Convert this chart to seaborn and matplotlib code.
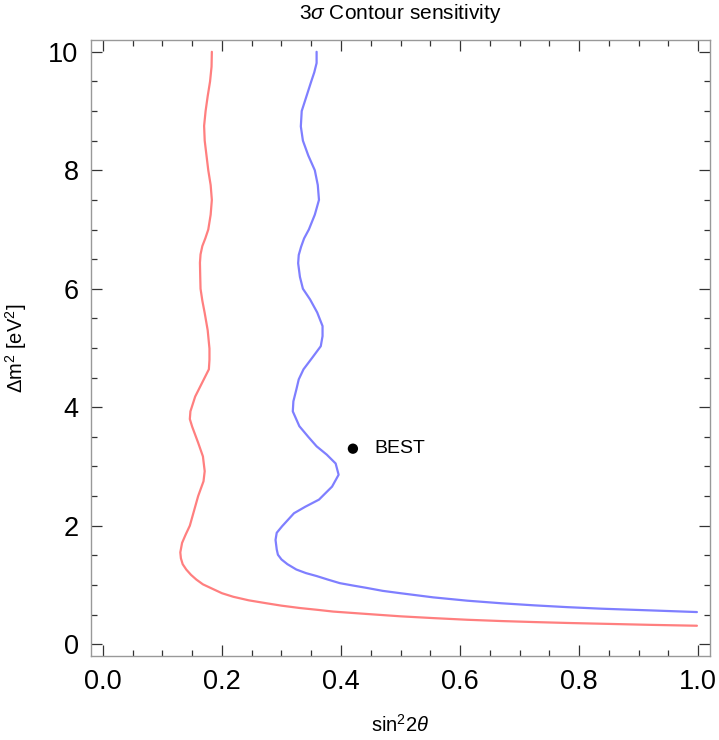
import matplotlib
matplotlib.use("Agg")
import matplotlib.pyplot as plt
import seaborn as sns
from matplotlib.ticker import MultipleLocator

# 3 sigma contour, red curve (sin^2 2theta, dm^2)
red_x = [0.183, 0.1825, 0.180, 0.176, 0.1725, 0.170, 0.171, 0.174, 0.177, 0.181,
         0.183, 0.181, 0.177, 0.172, 0.167, 0.164, 0.163, 0.1635, 0.164, 0.167,
         0.171, 0.176, 0.179, 0.179, 0.178, 0.166, 0.155, 0.147, 0.146, 0.150,
         0.160, 0.168, 0.171, 0.169, 0.160, 0.153, 0.146, 0.139, 0.133, 0.130,
         0.131, 0.134, 0.140, 0.148, 0.157, 0.168, 0.185, 0.200, 0.219, 0.245,
         0.275, 0.300, 0.331, 0.360, 0.387, 0.415, 0.443, 0.500, 0.555, 0.612,
         0.670, 0.725, 0.780, 0.837, 0.920, 0.998]
red_y = [10.0, 9.75, 9.5, 9.25, 9.0, 8.75, 8.5, 8.25, 8.0, 7.75,
         7.5, 7.25, 7.0, 6.85, 6.72, 6.58, 6.44, 6.2, 6.0, 5.8,
         5.59, 5.3, 4.99, 4.8, 4.64, 4.4, 4.18, 3.93, 3.8, 3.67,
         3.4, 3.17, 2.92, 2.75, 2.5, 2.25, 2.0, 1.85, 1.71, 1.55,
         1.45, 1.35, 1.26, 1.17, 1.09, 1.01, 0.93, 0.86, 0.80, 0.74,
         0.69, 0.65, 0.61, 0.58, 0.55, 0.53, 0.51, 0.47, 0.44, 0.412,
         0.39, 0.373, 0.358, 0.345, 0.326, 0.311]

# blue curve
blue_x = [0.359, 0.359, 0.355, 0.350, 0.342, 0.334, 0.3325, 0.336, 0.345, 0.356,
          0.361, 0.363, 0.356, 0.346, 0.338, 0.333, 0.329, 0.328, 0.331, 0.336,
          0.348, 0.360, 0.369, 0.369, 0.366, 0.352, 0.337, 0.329, 0.325, 0.320,
          0.319, 0.330, 0.345, 0.359, 0.376, 0.391, 0.396, 0.385, 0.363, 0.340,
          0.321, 0.301, 0.292, 0.290, 0.292, 0.294, 0.300, 0.310, 0.325, 0.341,
          0.359, 0.378, 0.398, 0.420, 0.443, 0.470, 0.500, 0.555, 0.612, 0.670,
          0.725, 0.780, 0.837, 0.920, 0.998]
blue_y = [10.0, 9.81, 9.65, 9.5, 9.25, 9.0, 8.74, 8.5, 8.25, 8.0,
          7.75, 7.5, 7.25, 7.0, 6.85, 6.71, 6.57, 6.43, 6.2, 6.0,
          5.82, 5.6, 5.37, 5.2, 5.03, 4.84, 4.64, 4.47, 4.30, 4.1,
          3.93, 3.68, 3.5, 3.34, 3.2, 3.05, 2.86, 2.66, 2.44, 2.32,
          2.21, 1.99, 1.88, 1.76, 1.6, 1.51, 1.43, 1.35, 1.26, 1.2,
          1.15, 1.09, 1.03, 0.99, 0.95, 0.90, 0.86, 0.79, 0.734, 0.69,
          0.655, 0.625, 0.599, 0.57, 0.542]

best_x = [0.42]
best_y = [3.3]
best_label = "BEST"

x_ticks = [0.0, 0.2, 0.4, 0.6, 0.8, 1.0]
y_ticks = [0, 2, 4, 6, 8, 10]

sns.set_style("ticks")
plt.rcParams['font.family'] = ['Liberation Sans', 'DejaVu Sans']
plt.rcParams['mathtext.fontset'] = 'custom'
plt.rcParams['mathtext.rm'] = 'Liberation Sans'
plt.rcParams['mathtext.it'] = 'Liberation Sans:italic'

fig = plt.figure(figsize=(7.19, 7.40), dpi=100)
ax = fig.add_axes([0.1266, 0.1135, 0.8609, 0.8325])

sns.lineplot(x=red_x, y=red_y, sort=False, estimator=None, color='#ff7f7f', linewidth=1.6, ax=ax)
sns.lineplot(x=blue_x, y=blue_y, sort=False, estimator=None, color='#7f7fff', linewidth=1.6, ax=ax)
sns.scatterplot(x=best_x, y=best_y, color='black', s=55, edgecolor='none', ax=ax, zorder=5)
ax.text(best_x[0] + 0.036, best_y[0], best_label, fontsize=14, va='center', ha='left', color='black')

ax.set_xlim(-0.02, 1.02)
ax.set_ylim(-0.2, 10.2)
ax.set_xticks(x_ticks)
ax.set_yticks(y_ticks)
ax.set_xticklabels([f"{v:.1f}" for v in x_ticks])
ax.set_yticklabels([str(v) for v in y_ticks])
ax.xaxis.set_minor_locator(MultipleLocator(0.05))
ax.yaxis.set_minor_locator(MultipleLocator(0.5))
ax.tick_params(which='both', direction='in', top=True, right=True, color='#333333', width=0.9)
ax.tick_params(which='major', length=8, labelsize=19.5, pad=9, labelcolor='black')
ax.tick_params(which='minor', length=4.5)
for s in ax.spines.values():
    s.set_color('#999999')
    s.set_linewidth(1.0)

ax.set_title("3$\\sigma$ Contour sensitivity", fontsize=15, pad=15, color='black')
ax.set_xlabel("sin$^2$2$\\theta$", fontsize=14.5, labelpad=14, color='black')
ax.set_ylabel("$\\Delta$m$^2$ [eV$^2$]", fontsize=14.5, labelpad=14, color='black')

plt.savefig("out.png", dpi=100)
plt.close()
